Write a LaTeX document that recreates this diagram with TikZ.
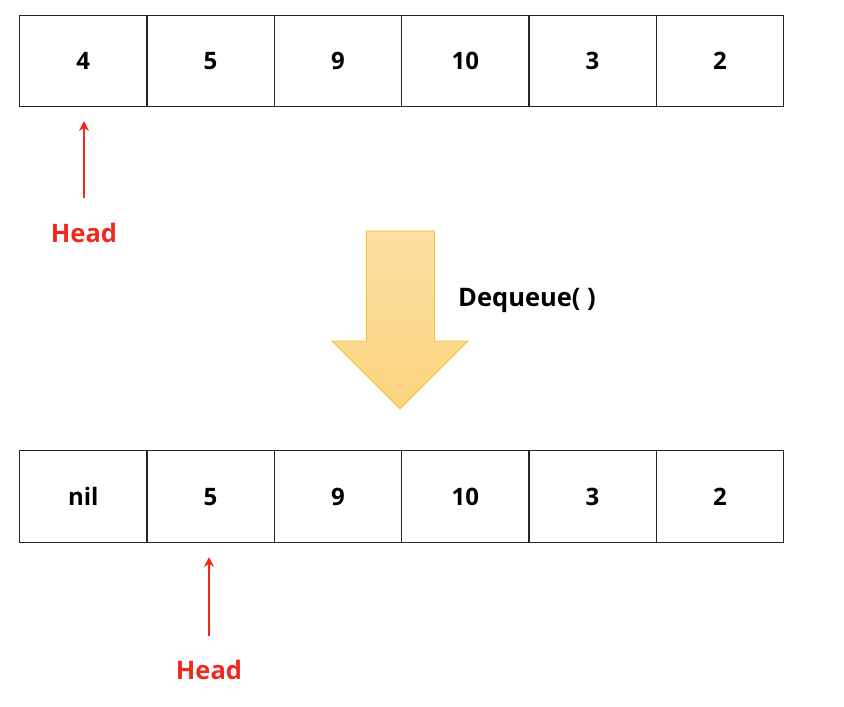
\documentclass[tikz,border=0pt]{standalone}
\usepackage{fontspec}
\setmainfont{Open Sans}
\usetikzlibrary{arrows.meta}
\definecolor{headred}{HTML}{F0291C}
\definecolor{arrtop}{HTML}{FBDFA2}
\definecolor{arrbot}{HTML}{FCD47E}
\definecolor{arrline}{HTML}{F5C03A}
\begin{document}
\begin{tikzpicture}[x=1pt,y=-1pt,
  cell/.style={draw=black!85,line width=1.2pt,minimum width=127.33pt,minimum height=91pt,inner sep=0pt,font=\fontsize{24}{26}\selectfont\bfseries,anchor=north west},
  ptr/.style={draw=headred,line width=2.4pt,-{Stealth[length=10pt,width=10pt]}},
  ptrlabel/.style={text=headred,font=\fontsize{25.5}{28}\selectfont\bfseries},
  oplabel/.style={font=\fontsize{25.5}{28}\selectfont\bfseries}]
\useasboundingbox (0,0) rectangle (844,707);
% top row
\foreach \v [count=\i from 0] in {4,5,9,10,3,2}{
  \node[cell] (t\i) at ({19+127.33*\i},15) {\v};
}
% bottom row
\foreach \v [count=\i from 0] in {nil,5,9,10,3,2}{
  \node[cell,minimum height=92pt] (b\i) at ({19+127.33*\i},450) {\v};
}
% head pointers
\node[ptrlabel] (h1) at (84,233) {Head};
\coordinate (h1s) at (84,198);
\coordinate (h1e) at (84,121);
\draw[ptr] (h1s) -- (h1e);
\node[ptrlabel] (h2) at (209,670) {Head};
\coordinate (h2s) at (209,636);
\coordinate (h2e) at (209,557);
\draw[ptr] (h2s) -- (h2e);
% big arrow
\shade[top color=arrtop,bottom color=arrbot,draw=arrline,line width=0.9pt]
  (366.5,231) -- (434.5,231) -- (434.5,341) -- (468,341) -- (400,409) -- (332,341) -- (366.5,341) -- cycle;
\node[oplabel,anchor=west,inner sep=0pt] (op) at (458,300) {Dequeue( )};
\end{tikzpicture}
\end{document}
